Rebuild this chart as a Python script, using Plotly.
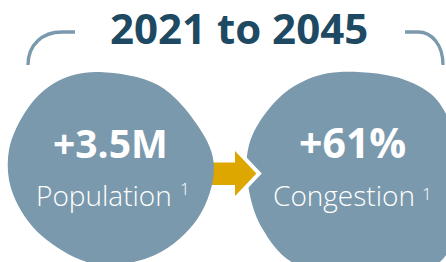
import plotly.graph_objects as go

# ---- content ----
title_text = "2021 to 2045"
metric_values = ["+3.5M", "+61%"]
metric_labels = ["Population", "Congestion"]
footnote_marks = ["1", "1"]

W, H = 446, 262
BLOB = "#7A99AD"
GOLD = "#DDA700"
NAVY = "#1D4A62"

def smooth_path(pts):
    n = len(pts)
    d = f"M {pts[0][0]},{pts[0][1]} "
    for i in range(n):
        p0 = pts[(i - 1) % n]; p1 = pts[i]; p2 = pts[(i + 1) % n]; p3 = pts[(i + 2) % n]
        c1 = (p1[0] + (p2[0] - p0[0]) / 6, p1[1] + (p2[1] - p0[1]) / 6)
        c2 = (p2[0] - (p3[0] - p1[0]) / 6, p2[1] - (p3[1] - p1[1]) / 6)
        d += f"C {c1[0]:.1f},{c1[1]:.1f} {c2[0]:.1f},{c2[1]:.1f} {p2[0]},{p2[1]} "
    return d + "Z"

blob1 = [(100, 72), (158, 85), (198, 126), (214, 168), (198, 218), (155, 255), (95, 264),
         (42, 236), (13, 194), (9, 150), (28, 108), (58, 81)]
blob2 = [(340, 72), (405, 80), (445, 112), (462, 190), (440, 262), (360, 280),
         (295, 264), (262, 228), (248, 185), (249, 145), (268, 110), (298, 84)]

arrow = "M 205,160.5 L 233,160.5 L 233,146 L 259,173.5 L 233,201 L 233,187 L 205,187 Z"

fig = go.Figure()
fig.add_trace(go.Scatter(x=[0, W], y=[0, H], mode="markers", marker=dict(opacity=0), hoverinfo="skip", showlegend=False))

shapes = [
    dict(type="path", path=smooth_path(blob2), fillcolor=BLOB, line=dict(width=0), layer="below"),
    dict(type="path", path=arrow, fillcolor=GOLD, line=dict(color="white", width=4), layer="below"),
    dict(type="path", path=smooth_path(blob1), fillcolor=BLOB, line=dict(width=0), layer="below"),
    dict(type="path", path="M 75,32 L 62,32 C 42,32 28,45 28,65", line=dict(color=BLOB, width=3.3)),
    dict(type="path", path="M 405,32 L 418,32 C 432,32 443,45 443,65", line=dict(color=BLOB, width=3.3)),
]

value_centers = [110, 352]
label_centers = [104, 344]
value_sizes = [39, 41]
annotations = [dict(x=238.5, y=27, text=f"<b>{title_text}</b>", showarrow=False,
                    font=dict(family="Open Sans", size=42, color=NAVY), xanchor="center", yanchor="middle")]
for cx, lx, v, lab, vs in zip(value_centers, label_centers, metric_values, metric_labels, value_sizes):
    annotations.append(dict(x=cx, y=142, text=f"<b>{v}</b>", showarrow=False,
                            font=dict(family="Open Sans", size=vs, color="white"), xanchor="center", yanchor="middle"))
    annotations.append(dict(x=lx, y=195, text=lab, showarrow=False,
                            font=dict(family="Open Sans", size=28, color="white", weight=300),
                            xanchor="center", yanchor="middle"))
annotations.append(dict(x=185, y=188, text=footnote_marks[0], showarrow=False,
                        font=dict(family="Open Sans", size=17, color="white", weight=300), xanchor="center", yanchor="middle"))
annotations.append(dict(x=427, y=193, text=footnote_marks[1], showarrow=False,
                        font=dict(family="Open Sans", size=17, color="white", weight=300), xanchor="center", yanchor="middle"))

fig.update_layout(
    width=W, height=H, margin=dict(l=0, r=0, t=0, b=0),
    paper_bgcolor="white", plot_bgcolor="white",
    xaxis=dict(range=[0, W], visible=False, fixedrange=True),
    yaxis=dict(range=[H, 0], visible=False, fixedrange=True),
    shapes=shapes, annotations=annotations, showlegend=False,
)
fig.write_html("out.html", config={"displayModeBar": False},
               post_script="document.body.style.margin='0';document.body.style.overflow='hidden';")
